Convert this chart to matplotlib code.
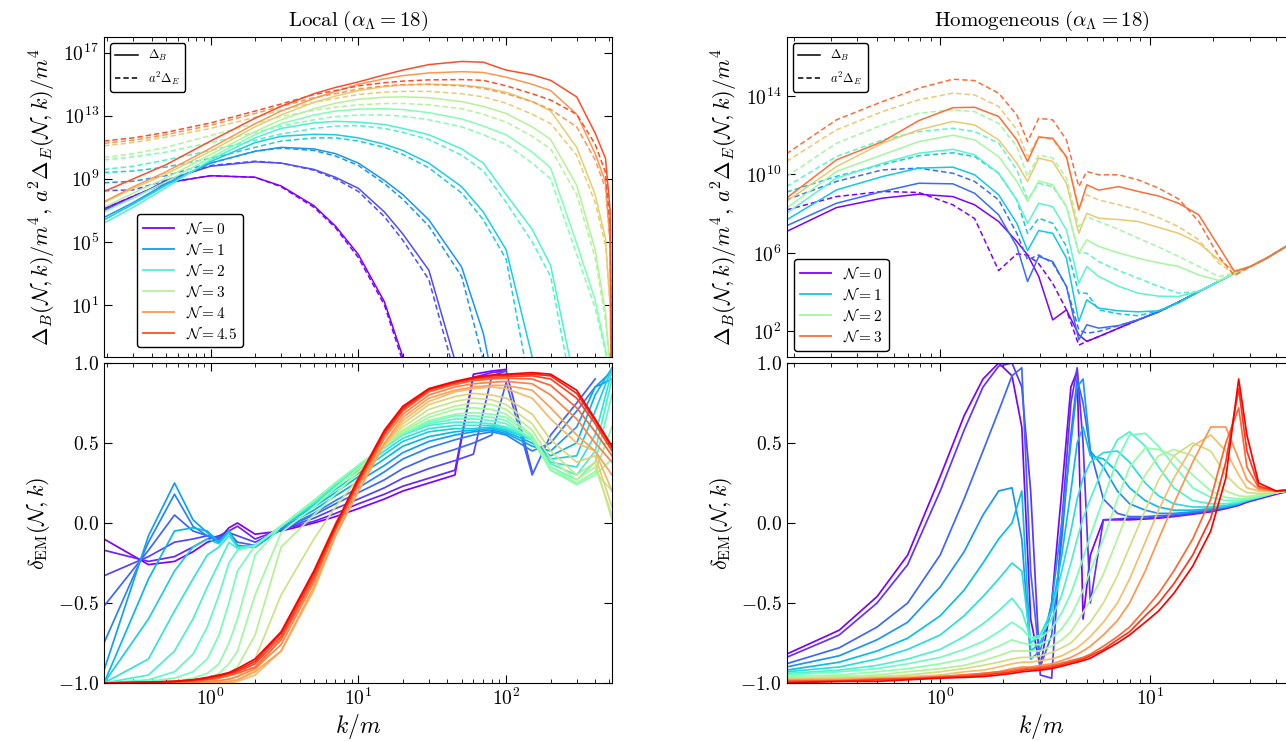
import numpy as np
import matplotlib
matplotlib.use('Agg')
import matplotlib.pyplot as plt
from matplotlib.lines import Line2D
from matplotlib.ticker import LogLocator, NullFormatter, NullLocator

plt.rcParams['mathtext.fontset'] = 'cm'
plt.rcParams['font.family'] = 'serif'
plt.rcParams['xtick.direction'] = 'in'
plt.rcParams['ytick.direction'] = 'in'
plt.rcParams['xtick.top'] = True
plt.rcParams['ytick.right'] = True
plt.rcParams['xtick.major.size'] = 6
plt.rcParams['ytick.major.size'] = 6
plt.rcParams['xtick.minor.size'] = 3
plt.rcParams['ytick.minor.size'] = 3

# ---------------- data: local run, spectra (log10 values) ----------------
N_loc = [0, 0.5, 1, 1.5, 2, 2.5, 3, 3.5, 4, 4.5]
k_loc = [0.19, 0.3, 0.5, 1, 2, 3, 5, 7, 10, 15, 20, 30, 50, 70, 100, 150, 200, 300, 400, 470, 505, 520]
B_loc = [
    [7.1, 7.9, 8.75, 9.2, 9.1, 8.55, 7.3, 6.0, 4.2, 1.2, -2.3, -8] + [None] * 10,
    [7.0, 7.8, 8.9, 9.8, 10.08, 10.0, 9.6, 9.1, 8.4, 6.9, 5.5, 3.2, -4, -10] + [None] * 8,
    [6.55, 7.5, 8.7, 10.0, 10.75, 11.0, 10.9, 10.6, 10.0, 8.9, 8.0, 6.4, 3.4, -0.8, -8] + [None] * 7,
    [6.4, 7.4, 8.6, 10.1, 11.3, 11.7, 11.83, 11.8, 11.6, 11.2, 10.8, 10.0, 8.5, 6.9, 4.5, -2.3, -8] + [None] * 5,
    [6.2, 7.2, 8.45, 10.2, 11.6, 12.2, 12.55, 12.65, 12.6, 12.45, 12.2, 11.8, 10.9, 10.0, 8.0, 5.8, 3.5, -4.5, -10] + [None] * 3,
    [6.9, 7.8, 8.8, 10.35, 11.8, 12.5, 13.05, 13.3, 13.42, 13.45, 13.4, 13.2, 12.8, 12.35, 11.8, 10.7, 9.7, 4.9, 1.3, -1.8, -4, -8],
    [7.2, 8.1, 9.05, 10.55, 12.0, 12.75, 13.45, 13.8, 14.05, 14.18, 14.2, 14.15, 13.9, 13.6, 13.15, 12.3, 11.5, 8.6, 4.5, 0.5, -3, -8],
    [7.5, 8.4, 9.3, 10.75, 12.3, 13.05, 13.85, 14.25, 14.6, 14.85, 14.95, 15.0, 14.95, 14.8, 14.5, 13.9, 13.3, 11.0, 8.0, 5.2, 1.0, -8],
    [7.55, 8.5, 9.45, 10.95, 12.5, 13.3, 14.1, 14.55, 15.0, 15.35, 15.55, 15.72, 15.8, 15.75, 15.45, 15.0, 14.6, 13.1, 10.6, 8.8, 5.0, -8],
    [8.2, 9.0, 9.9, 11.4, 12.85, 13.6, 14.4, 14.8, 15.15, 15.6, 15.9, 16.25, 16.45, 16.4, 15.9, 15.6, 15.25, 14.2, 11.9, 10.3, 7.0, -8],
]
E_loc = [
    [7.1, 7.9, 8.75, 9.2, 9.1, 8.5, 7.2, 5.9, 4.0, 1.0, -2.6, -8] + [None] * 10,
    [8.25, 8.3, 8.9, 9.85, 10.12, 10.0, 9.55, 9.0, 8.2, 6.6, 5.1, 2.6, -5, -10] + [None] * 8,
    [8.75, 8.85, 9.2, 10.0, 10.75, 10.95, 10.8, 10.45, 9.85, 8.7, 7.7, 6.0, 2.8, -2.5, -10] + [None] * 7,
    [9.4, 9.5, 9.75, 10.3, 11.0, 11.4, 11.6, 11.6, 11.4, 11.0, 10.55, 9.7, 8.1, 6.4, 3.9, -5, -10] + [None] * 5,
    [9.6, 9.8, 10.2, 10.8, 11.45, 11.85, 12.2, 12.35, 12.38, 12.2, 11.95, 11.5, 10.5, 9.5, 7.5, 5.0, 2.8, -6, -10] + [None] * 3,
    [10.2, 10.4, 10.7, 11.3, 11.95, 12.35, 12.75, 12.95, 13.05, 13.05, 12.98, 12.75, 12.3, 11.8, 11.2, 10.0, 9.0, 4.2, 0.8, -2.0, -5, -8],
    [10.35, 10.6, 11.0, 11.75, 12.5, 12.95, 13.35, 13.55, 13.7, 13.78, 13.78, 13.7, 13.45, 13.1, 12.6, 11.7, 10.9, 8.0, 4.0, 0.0, -3, -8],
    [11.1, 11.3, 11.65, 12.2, 12.9, 13.35, 13.85, 14.1, 14.35, 14.5, 14.55, 14.55, 14.4, 14.2, 13.8, 13.1, 12.5, 10.5, 7.5, 4.8, 1.0, -8],
    [11.25, 11.45, 11.8, 12.4, 13.15, 13.6, 14.15, 14.4, 14.7, 14.9, 14.98, 15.0, 14.9, 14.75, 14.4, 13.9, 13.4, 12.3, 10.2, 8.4, 5.0, -8],
    [11.4, 11.6, 11.95, 12.55, 13.3, 13.75, 14.35, 14.6, 14.9, 15.1, 15.2, 15.28, 15.3, 15.25, 14.9, 14.4, 14.0, 13.1, 11.2, 9.4, 6.0, -8],
]

# ---------------- data: homogeneous run, spectra (log10 values) ----------------
N_hom = [0, 0.5, 1, 1.5, 2, 2.5, 3]
k_hom = [0.185, 0.32, 0.53, 0.79, 1.15, 1.46, 1.9, 2.32, 2.61, 2.95, 3.44, 4.0, 4.58, 5.0, 5.7,
         7.1, 8.8, 11.0, 13.7, 17.1, 21.3, 25.3, 30.2, 36.0, 50.0]
B_hom = [
    [7.09, 8.31, 8.79, 8.99, 8.87, 8.45, 7.6, 6.58, 5.9, 4.8, 2.59, 3.1, 1.83, 1.49, 1.74, 2.17, 2.59, 3.0, 3.5, 4.03, 4.55, 4.97, 5.31, 5.73, 6.65],
    [7.38, 8.53, 9.13, 9.55, 9.52, 9.04, 7.94, 6.33, 4.54, 5.82, 5.56, 4.29, 1.57, 2.34, 2.17, 2.3, 2.6, 3.0, 3.5, 4.03, 4.55, 4.97, 5.31, 5.73, 6.65],
    [7.68, 9.21, 9.89, 10.32, 10.37, 9.98, 8.96, 7.51, 6.12, 7.14, 7.0, 5.73, 2.51, 3.61, 3.19, 3.05, 3.0, 3.05, 3.45, 4.03, 4.55, 4.97, 5.31, 5.73, 6.65],
    [8.02, 9.81, 10.57, 11.08, 11.28, 11.0, 10.06, 8.7, 7.51, 8.53, 8.36, 7.17, 4.46, 5.31, 4.8, 4.3, 3.95, 3.8, 3.78, 4.05, 4.55, 4.97, 5.31, 5.73, 6.65],
    [8.28, 10.15, 11.0, 11.67, 12.0, 11.76, 10.91, 9.64, 8.62, 9.67, 9.47, 8.36, 5.99, 6.67, 6.33, 6.0, 5.73, 5.5, 5.31, 4.88, 4.6, 4.97, 5.31, 5.73, 6.65],
    [8.62, 10.4, 11.59, 12.27, 12.7, 12.52, 11.76, 10.57, 9.64, 10.83, 10.66, 9.55, 7.0, 8.02, 7.77, 7.7, 7.6, 7.3, 7.0, 6.5, 5.65, 5.1, 5.31, 5.73, 6.65],
    [8.79, 10.74, 11.67, 12.74, 13.4, 13.42, 12.95, 11.76, 10.66, 11.9, 11.84, 10.9, 8.19, 9.47, 9.2, 9.38, 9.13, 8.9, 8.53, 7.94, 6.33, 5.05, 5.31, 5.73, 6.65],
]
E_hom = [
    [8.19, 8.87, 9.13, 9.08, 8.45, 7.75, 5.1, 5.95, 5.9, 5.45, 4.45, 3.1, 1.3, 1.5, 1.74, 2.17, 2.59, 3.0, 3.5, 4.03, 4.55, 4.97, 5.31, 5.73, 6.65],
    [8.7, 9.64, 10.23, 10.32, 10.06, 9.64, 8.7, 7.0, 5.65, 5.9, 5.48, 4.29, 2.08, 1.91, 2.0, 2.3, 2.6, 3.0, 3.5, 4.03, 4.55, 4.97, 5.31, 5.73, 6.65],
    [9.1, 9.9, 10.5, 10.95, 11.1, 10.91, 10.06, 8.7, 7.0, 7.77, 7.51, 6.33, 3.95, 3.95, 3.1, 2.9, 2.8, 3.05, 3.5, 4.03, 4.55, 4.97, 5.31, 5.73, 6.65],
    [9.38, 10.91, 11.76, 12.18, 12.35, 12.18, 11.59, 10.23, 8.7, 9.55, 9.38, 8.36, 5.99, 5.99, 5.56, 5.1, 4.71, 4.3, 3.95, 4.05, 4.55, 4.97, 5.31, 5.73, 6.65],
    [9.89, 11.59, 12.52, 13.12, 13.29, 13.2, 12.6, 11.42, 9.89, 11.0, 10.83, 9.81, 7.34, 7.85, 7.6, 7.2, 6.75, 6.3, 5.82, 5.31, 4.8, 4.97, 5.31, 5.73, 6.65],
    [10.66, 12.27, 13.2, 13.8, 14.14, 14.05, 13.46, 12.27, 10.9, 11.93, 11.76, 10.83, 8.36, 8.96, 8.7, 8.45, 8.19, 7.8, 7.34, 6.67, 5.48, 4.9, 5.31, 5.73, 6.65],
    [11.05, 12.78, 13.71, 14.39, 14.85, 14.78, 14.14, 13.03, 11.67, 12.86, 12.78, 11.76, 9.38, 10.15, 9.98, 9.98, 9.72, 9.3, 8.75, 7.6, 5.82, 4.85, 5.31, 5.73, 6.65],
]

# ---------------- data: delta_EM, local run ----------------
kd_loc = [0.19, 0.38, 0.57, 0.76, 0.95, 1.14, 1.33, 1.52, 2.0, 3.0, 5.0, 7.0, 10, 15, 20, 30, 45, 60, 80, 100, 150, 200, 300, 400, 520]
d_loc = [
    [-0.10, -0.26, -0.24, -0.18, -0.12, -0.10, -0.03, 0.00, -0.07, -0.05, 0.00, 0.04, 0.09, 0.15, 0.20, 0.25, 0.30, 0.93, 0.95, 0.96, None, None, None, None, None],
    [-0.17, -0.24, -0.21, -0.15, -0.10, -0.08, -0.05, -0.02, -0.10, -0.04, 0.01, 0.06, 0.12, 0.18, 0.23, 0.28, 0.33, 0.91, 0.94, 0.95, None, None, None, None, None],
    [-0.33, -0.21, -0.12, -0.10, -0.08, -0.09, -0.06, -0.08, -0.12, -0.04, 0.03, 0.09, 0.15, 0.22, 0.28, 0.34, 0.39, 0.43, 0.92, 0.95, 0.32, None, None, None, None],
    [-0.52, -0.17, 0.05, -0.05, -0.08, -0.10, -0.06, -0.12, -0.14, -0.04, 0.05, 0.12, 0.19, 0.27, 0.34, 0.41, 0.46, 0.50, 0.55, 0.88, 0.30, 0.55, 0.75, 0.90, None],
    [-0.75, -0.12, 0.18, -0.02, -0.08, -0.12, -0.05, -0.14, -0.15, -0.04, 0.06, 0.14, 0.22, 0.32, 0.40, 0.47, 0.52, 0.55, 0.57, 0.55, 0.45, 0.50, 0.70, 0.85, 0.90],
    [-0.92, -0.08, 0.25, 0.02, -0.06, -0.12, -0.05, -0.15, -0.15, -0.03, 0.08, 0.17, 0.26, 0.36, 0.44, 0.51, 0.55, 0.57, 0.58, 0.56, 0.48, 0.45, 0.60, 0.85, 0.95],
    [-1.00, -0.35, -0.05, -0.03, -0.05, -0.12, -0.05, -0.15, -0.15, -0.02, 0.10, 0.19, 0.29, 0.40, 0.48, 0.54, 0.57, 0.58, 0.59, 0.57, 0.50, 0.42, 0.50, 0.80, 0.97],
    [-1.00, -0.60, -0.30, -0.15, -0.10, -0.13, -0.06, -0.15, -0.15, -0.02, 0.11, 0.21, 0.31, 0.43, 0.51, 0.57, 0.59, 0.59, 0.60, 0.58, 0.52, 0.40, 0.42, 0.70, 0.97],
    [-1.00, -0.85, -0.55, -0.35, -0.20, -0.15, -0.08, -0.15, -0.14, -0.02, 0.12, 0.23, 0.33, 0.45, 0.53, 0.59, 0.61, 0.61, 0.61, 0.59, 0.52, 0.38, 0.35, 0.55, 0.95],
    [-1.00, -0.95, -0.80, -0.60, -0.40, -0.25, -0.12, -0.16, -0.14, -0.02, 0.13, 0.24, 0.35, 0.47, 0.55, 0.61, 0.63, 0.63, 0.62, 0.60, 0.53, 0.37, 0.30, 0.45, 0.90],
    [-1.00, -0.98, -0.93, -0.82, -0.65, -0.45, -0.25, -0.17, -0.14, -0.02, 0.14, 0.25, 0.36, 0.48, 0.56, 0.62, 0.65, 0.65, 0.64, 0.62, 0.52, 0.35, 0.27, 0.38, 0.80],
    [-1.00, -0.99, -0.97, -0.93, -0.85, -0.70, -0.50, -0.30, -0.14, -0.02, 0.14, 0.25, 0.36, 0.48, 0.56, 0.63, 0.67, 0.67, 0.66, 0.64, 0.52, 0.33, 0.25, 0.32, 0.60],
    [-1.00, -1.00, -0.99, -0.97, -0.94, -0.88, -0.75, -0.60, -0.20, -0.02, 0.14, 0.25, 0.36, 0.48, 0.56, 0.64, 0.68, 0.69, 0.68, 0.66, 0.54, 0.33, 0.24, 0.30, 0.40],
    [-1.00, -1.00, -1.00, -0.99, -0.97, -0.94, -0.88, -0.80, -0.45, -0.06, 0.10, 0.22, 0.34, 0.48, 0.57, 0.66, 0.71, 0.72, 0.71, 0.68, 0.55, 0.35, 0.25, 0.32, 0.20],
    [-1.00, -1.00, -1.00, -1.00, -0.99, -0.97, -0.94, -0.90, -0.70, -0.15, 0.05, 0.18, 0.32, 0.48, 0.58, 0.68, 0.73, 0.75, 0.74, 0.71, 0.58, 0.40, 0.27, 0.35, 0.05],
    [-1.00, -1.00, -1.00, -1.00, -1.00, -0.99, -0.98, -0.96, -0.85, -0.45, -0.10, 0.10, 0.28, 0.48, 0.60, 0.71, 0.76, 0.78, 0.77, 0.74, 0.62, 0.45, 0.30, 0.38, 0.02],
    [-1.00, -1.00, -1.00, -1.00, -1.00, -1.00, -0.99, -0.98, -0.92, -0.72, -0.30, 0.00, 0.24, 0.49, 0.62, 0.74, 0.79, 0.81, 0.80, 0.78, 0.68, 0.52, 0.38, 0.42, 0.10],
    [-1.00, -1.00, -1.00, -1.00, -1.00, -1.00, -1.00, -0.99, -0.95, -0.80, -0.42, -0.08, 0.20, 0.49, 0.64, 0.76, 0.82, 0.84, 0.85, 0.84, 0.78, 0.65, 0.50, 0.45, 0.20],
    [-1.00, -1.00, -1.00, -1.00, -1.00, -0.995, -0.99, -0.98, -0.93, -0.80, -0.40, -0.08, 0.20, 0.50, 0.66, 0.78, 0.83, 0.85, 0.86, 0.86, 0.83, 0.72, 0.55, 0.45, 0.30],
    [-1.00, -1.00, -1.00, -0.995, -0.99, -0.985, -0.975, -0.96, -0.91, -0.76, -0.37, -0.05, 0.23, 0.53, 0.68, 0.80, 0.85, 0.87, 0.88, 0.885, 0.87, 0.80, 0.65, 0.50, 0.38],
    [-1.00, -1.00, -0.995, -0.99, -0.98, -0.97, -0.955, -0.94, -0.90, -0.73, -0.35, -0.04, 0.25, 0.55, 0.70, 0.82, 0.865, 0.89, 0.90, 0.905, 0.90, 0.86, 0.72, 0.57, 0.42],
    [-1.00, -0.995, -0.99, -0.985, -0.975, -0.96, -0.945, -0.93, -0.88, -0.71, -0.33, -0.03, 0.26, 0.56, 0.71, 0.83, 0.875, 0.90, 0.91, 0.915, 0.92, 0.90, 0.78, 0.62, 0.45],
    [-1.00, -0.995, -0.99, -0.98, -0.97, -0.955, -0.94, -0.92, -0.865, -0.69, -0.31, -0.02, 0.27, 0.57, 0.72, 0.835, 0.88, 0.905, 0.92, 0.925, 0.93, 0.92, 0.81, 0.64, 0.47],
    [-1.00, -0.995, -0.99, -0.98, -0.965, -0.95, -0.935, -0.91, -0.85, -0.68, -0.30, -0.01, 0.28, 0.58, 0.73, 0.84, 0.885, 0.91, 0.925, 0.93, 0.94, 0.93, 0.83, 0.65, 0.48],
]

# ---------------- data: delta_EM, homogeneous run ----------------
kd_hom = [0.185, 0.33, 0.5, 0.7, 1.0, 1.3, 1.6, 1.9, 2.2, 2.45, 2.7, 3.0, 3.4, 3.8, 4.2, 4.5, 4.8, 5.2,
          6.0, 7.0, 8.0, 9.5, 11, 13, 16, 19.5, 23, 26.5, 29, 33, 40, 50]
d_hom = [
    [-0.82, -0.67, -0.46, -0.20, 0.29, 0.67, 0.90, 1.00, 0.92, 0.60, -0.60, -0.90, -0.50, 0.20, 0.85, 0.95, -0.60, -0.20, 0.02, 0.02, 0.02, 0.025, 0.03, 0.04, 0.055, 0.07, 0.09, 0.11, 0.13, 0.15, 0.18, 0.21],
    [-0.84, -0.70, -0.50, -0.26, 0.20, 0.58, 0.85, 0.98, 1.00, 0.85, 0.20, -0.95, -0.97, 0.00, 0.75, 0.97, 0.50, -0.50, 0.02, 0.025, 0.03, 0.03, 0.035, 0.045, 0.06, 0.075, 0.095, 0.115, 0.135, 0.155, 0.185, 0.21],
    [-0.88, -0.78, -0.65, -0.50, -0.20, 0.15, 0.45, 0.70, 0.92, 0.97, -0.30, -0.90, -0.70, -0.10, 0.55, 0.90, 0.75, 0.45, 0.15, 0.06, 0.04, 0.04, 0.045, 0.05, 0.065, 0.08, 0.10, 0.12, 0.14, 0.16, 0.19, 0.21],
    [-0.90, -0.83, -0.73, -0.62, -0.40, -0.18, 0.05, 0.20, 0.22, -0.10, -0.85, -0.80, -0.50, 0.00, 0.50, 0.85, 0.90, 0.45, 0.35, 0.20, 0.12, 0.08, 0.06, 0.06, 0.07, 0.085, 0.10, 0.12, 0.14, 0.16, 0.19, 0.21],
    [-0.92, -0.87, -0.80, -0.72, -0.58, -0.42, -0.25, -0.10, 0.00, 0.20, -0.80, -0.75, -0.55, -0.20, 0.20, 0.50, 0.60, 0.42, 0.40, 0.32, 0.22, 0.14, 0.10, 0.08, 0.08, 0.09, 0.10, 0.12, 0.14, 0.16, 0.19, 0.21],
    [-0.93, -0.90, -0.85, -0.79, -0.70, -0.58, -0.46, -0.35, -0.25, -0.30, -0.75, -0.70, -0.55, -0.30, -0.05, 0.15, 0.28, 0.38, 0.44, 0.45, 0.38, 0.25, 0.17, 0.12, 0.10, 0.10, 0.11, 0.125, 0.14, 0.16, 0.19, 0.21],
    [-0.94, -0.92, -0.89, -0.85, -0.79, -0.71, -0.63, -0.55, -0.47, -0.55, -0.72, -0.70, -0.60, -0.45, -0.25, -0.10, 0.03, 0.15, 0.35, 0.52, 0.57, 0.48, 0.35, 0.22, 0.14, 0.12, 0.12, 0.13, 0.145, 0.16, 0.19, 0.21],
    [-0.95, -0.93, -0.91, -0.88, -0.84, -0.79, -0.74, -0.68, -0.62, -0.66, -0.72, -0.72, -0.66, -0.56, -0.44, -0.33, -0.22, -0.08, 0.15, 0.40, 0.55, 0.56, 0.48, 0.36, 0.22, 0.16, 0.14, 0.14, 0.15, 0.165, 0.19, 0.21],
    [-0.96, -0.95, -0.93, -0.91, -0.88, -0.85, -0.81, -0.77, -0.73, -0.75, -0.76, -0.76, -0.72, -0.66, -0.58, -0.50, -0.42, -0.30, -0.10, 0.15, 0.35, 0.47, 0.46, 0.42, 0.30, 0.20, 0.16, 0.15, 0.155, 0.17, 0.19, 0.21],
    [-0.97, -0.96, -0.95, -0.93, -0.91, -0.89, -0.86, -0.83, -0.80, -0.80, -0.80, -0.80, -0.77, -0.73, -0.68, -0.62, -0.56, -0.48, -0.32, -0.10, 0.10, 0.30, 0.42, 0.46, 0.42, 0.30, 0.20, 0.17, 0.165, 0.175, 0.19, 0.21],
    [-0.97, -0.97, -0.96, -0.95, -0.93, -0.91, -0.89, -0.87, -0.85, -0.84, -0.84, -0.83, -0.81, -0.78, -0.75, -0.71, -0.67, -0.62, -0.50, -0.33, -0.15, 0.08, 0.27, 0.42, 0.50, 0.45, 0.30, 0.22, 0.19, 0.185, 0.19, 0.21],
    [-0.98, -0.97, -0.97, -0.96, -0.95, -0.93, -0.92, -0.90, -0.88, -0.87, -0.87, -0.86, -0.85, -0.83, -0.80, -0.78, -0.75, -0.71, -0.62, -0.50, -0.35, -0.12, 0.08, 0.28, 0.48, 0.55, 0.45, 0.30, 0.22, 0.20, 0.20, 0.21],
    [-0.98, -0.98, -0.97, -0.97, -0.96, -0.95, -0.94, -0.93, -0.91, -0.90, -0.90, -0.89, -0.88, -0.86, -0.84, -0.82, -0.80, -0.77, -0.70, -0.61, -0.50, -0.30, -0.10, 0.12, 0.38, 0.60, 0.60, 0.40, 0.27, 0.21, 0.20, 0.21],
    [-0.99, -0.985, -0.975, -0.97, -0.96, -0.95, -0.94, -0.93, -0.92, -0.91, -0.905, -0.90, -0.89, -0.875, -0.86, -0.85, -0.84, -0.82, -0.77, -0.71, -0.65, -0.54, -0.44, -0.30, -0.10, 0.15, 0.50, 0.72, 0.35, 0.22, 0.20, 0.21],
    [-0.99, -0.99, -0.98, -0.975, -0.965, -0.96, -0.95, -0.94, -0.93, -0.92, -0.915, -0.91, -0.90, -0.885, -0.87, -0.86, -0.85, -0.83, -0.79, -0.73, -0.68, -0.58, -0.50, -0.38, -0.20, 0.03, 0.38, 0.84, 0.45, 0.23, 0.20, 0.21],
    [-1.00, -0.99, -0.99, -0.98, -0.97, -0.965, -0.96, -0.95, -0.94, -0.93, -0.925, -0.92, -0.91, -0.895, -0.88, -0.87, -0.86, -0.845, -0.80, -0.75, -0.70, -0.62, -0.55, -0.44, -0.27, -0.05, 0.28, 0.90, 0.55, 0.25, 0.20, 0.21],
]


def m(s):
    return '$' + s + '$'


def style_logx(ax, xlim):
    ax.set_xscale('log')
    ax.set_xlim(xlim)
    ax.set_xticks([1, 10, 100])
    ax.set_xticklabels([m('10^{0}'), m('10^{1}'), m('10^{2}')])
    ax.xaxis.set_minor_locator(LogLocator(base=10, subs=np.arange(2, 10), numticks=20))
    ax.xaxis.set_minor_formatter(NullFormatter())
    ax.set_xlim(xlim)


def spectrum_panel(ax, k, Ns, B, E, cscale, xlim, ylim, yticks, legN):
    k = np.array(k)
    for i, n in enumerate(Ns):
        c = plt.cm.rainbow(n / cscale)
        ax.plot(k, 10.0 ** np.array(B[i], dtype=float), color=c, lw=1.1)
        ax.plot(k, 10.0 ** np.array(E[i], dtype=float), color=c, lw=1.1, ls=(0, (3.5, 2)))
    ax.set_yscale('log')
    ax.set_ylim(ylim)
    ax.set_yticks([10.0 ** p for p in yticks])
    ax.set_yticklabels([m('10^{%d}' % p) for p in yticks])
    ax.yaxis.set_minor_locator(NullLocator())
    style_logx(ax, xlim)
    ax.tick_params(labelbottom=False, labelsize=14)
    ax.set_ylabel(r'$\Delta_B(\mathcal{N},k)/m^4,\, a^2\Delta_E(\mathcal{N},k)/m^4$', fontsize=16)

    h1 = [Line2D([], [], color='k', lw=1.1), Line2D([], [], color='k', lw=1.1, ls=(0, (3.5, 2)))]
    leg1 = ax.legend(h1, [r'$\Delta_B$', r'$a^2\Delta_E$'], loc='upper left', fontsize=9,
                     handlelength=1.8, fancybox=True, framealpha=1, edgecolor='k')
    ax.add_artist(leg1)
    h2 = [Line2D([], [], color=plt.cm.rainbow(n / cscale), lw=1.3) for n in legN]
    lab2 = [m(r'\mathcal{N}=%g' % n) for n in legN]
    return h2, lab2


def delta_panel(ax, k, D, xlim):
    k = np.array(k)
    n = len(D)
    for i, row in enumerate(D):
        ax.plot(k, np.array(row, dtype=float), color=plt.cm.rainbow(i / (n - 1)), lw=1.25)
    ax.set_ylim(-1.0, 1.0)
    yt = [-1.0, -0.5, 0.0, 0.5, 1.0]
    ax.set_yticks(yt)
    ax.set_yticklabels([m('%.1f' % v) for v in yt])
    style_logx(ax, xlim)
    ax.tick_params(labelsize=14)
    ax.set_xlabel(r'$k/m$', fontsize=17, labelpad=2)
    ax.set_ylabel(r'$\delta_{\rm EM}(\mathcal{N},k)$', fontsize=16)


W, H = 1286.0, 741.0
fig = plt.figure(figsize=(W / 100, H / 100), dpi=100)
ax_tl = fig.add_axes([104 / W, 1 - 357 / H, 508 / W, 320 / H])
ax_bl = fig.add_axes([104 / W, 1 - 683 / H, 508 / W, 320 / H])
ax_tr = fig.add_axes([786.5 / W, 1 - 357 / H, 510 / W, 320 / H])
ax_br = fig.add_axes([786.5 / W, 1 - 683 / H, 510 / W, 320 / H])

h, lab = spectrum_panel(ax_tl, k_loc, N_loc, B_loc, E_loc, 5.0, (0.19, 520), (5e-3, 1e18),
                        [1, 5, 9, 13, 17], [0, 1, 2, 3, 4, 4.5])
ax_tl.legend(h, lab, loc='lower left', bbox_to_anchor=(0.065, 0.03), fontsize=11,
             handlelength=2.0, labelspacing=0.28, fancybox=True, framealpha=1, edgecolor='k',
             borderaxespad=0)
ax_tl.set_title(r'$\mathrm{Local}\ (\alpha_\Lambda = 18)$', fontsize=15, pad=8)

h, lab = spectrum_panel(ax_tr, k_hom, N_hom, B_hom, E_hom, 3.5, (0.185, 50), (5.0, 1e17),
                        [2, 6, 10, 14], [0, 1, 2, 3])
ax_tr.legend(h, lab, loc='lower left', bbox_to_anchor=(0.015, 0.02), fontsize=11,
             handlelength=2.0, labelspacing=0.28, fancybox=True, framealpha=1, edgecolor='k',
             borderaxespad=0)
ax_tr.set_title(r'$\mathrm{Homogeneous}\ (\alpha_\Lambda = 18)$', fontsize=15, pad=8)

delta_panel(ax_bl, kd_loc, d_loc, (0.19, 520))
delta_panel(ax_br, kd_hom, d_hom, (0.185, 50))

fig.savefig('out.png', dpi=100)
